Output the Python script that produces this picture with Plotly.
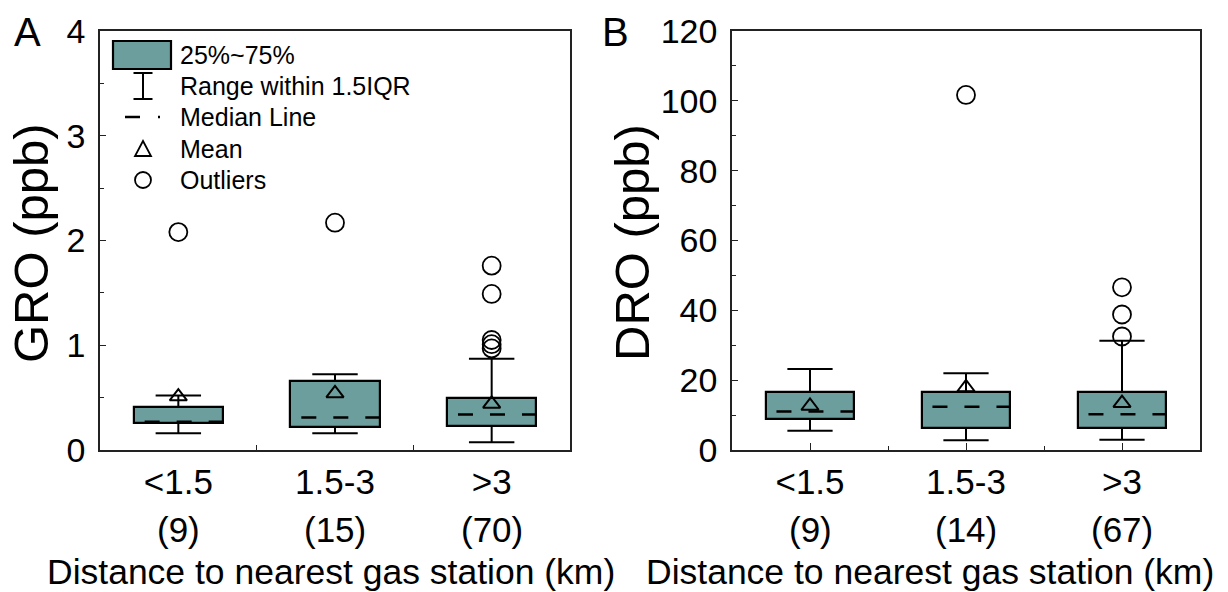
import plotly.graph_objects as go
from plotly.subplots import make_subplots

W, H = 1228, 592

categories = ["<1.5", "1.5-3", ">3"]
counts_gro = ["(9)", "(15)", "(70)"]
counts_dro = ["(9)", "(14)", "(67)"]

# GRO (ppb)
gro_q1 = [0.255, 0.223, 0.23]
gro_median = [0.27, 0.31, 0.34]
gro_q3 = [0.414, 0.66, 0.495]
gro_lower = [0.16, 0.16, 0.074]
gro_upper = [0.52, 0.724, 0.87]
gro_mean = [0.51, 0.54, 0.44]
gro_outliers = [[2.08], [2.17], [1.76, 1.49, 1.05, 1.01, 0.97]]

# DRO (ppb)
dro_q1 = [8.8, 6.4, 6.2]
dro_median = [11.0, 12.4, 10.25]
dro_q3 = [16.75, 16.7, 16.7]
dro_lower = [5.5, 2.8, 2.9]
dro_upper = [23.2, 22.0, 31.3]
dro_mean = [12.6, 17.9, 13.4]
dro_outliers = [[], [101.7], [46.6, 38.8, 32.5]]

FILL = "#6b9e9c"
FONT = "Liberation Sans, Arial, sans-serif"
BOXW = 0.57
CAPW = 0.145
XFS = 35

fig = make_subplots(rows=1, cols=2)


def add_panel(col, q1, med, q3, lo, hi, mean, outl):
    xs = list(range(len(categories)))
    wx, wy = [], []
    for i in xs:
        wx += [i, i, None, i, i, None]
        wy += [q3[i], hi[i], None, q1[i], lo[i], None]
        wx += [i - CAPW, i + CAPW, None, i - CAPW, i + CAPW, None]
        wy += [hi[i], hi[i], None, lo[i], lo[i], None]
    fig.add_trace(go.Scatter(x=wx, y=wy, mode="lines",
                             line=dict(color="black", width=2),
                             showlegend=False, hoverinfo="skip"), row=1, col=col)
    fig.add_trace(go.Bar(x=xs, y=[q3[i] - q1[i] for i in xs], base=q1,
                         width=BOXW, marker=dict(color=FILL, line=dict(color="black", width=2.2)),
                         showlegend=False), row=1, col=col)
    mx, my = [], []
    for i in xs:
        mx += [i - BOXW / 2 + 0.07, i + BOXW / 2, None]
        my += [med[i], med[i], None]
    fig.add_trace(go.Scatter(x=mx, y=my, mode="lines",
                             line=dict(color="black", width=2.5, dash="15px,17px"),
                             showlegend=False, hoverinfo="skip"), row=1, col=col)
    fig.add_trace(go.Scatter(x=xs, y=mean, mode="markers",
                             marker=dict(symbol="triangle-up-open", size=15, color="black",
                                         line=dict(width=2, color="black")),
                             showlegend=False), row=1, col=col)
    ox, oy = [], []
    for i in xs:
        for v in outl[i]:
            ox.append(i)
            oy.append(v)
    fig.add_trace(go.Scatter(x=ox, y=oy, mode="markers",
                             marker=dict(symbol="circle-open", size=18, color="black",
                                         line=dict(width=1.8, color="black")),
                             showlegend=False), row=1, col=col)


add_panel(1, gro_q1, gro_median, gro_q3, gro_lower, gro_upper, gro_mean, gro_outliers)
add_panel(2, dro_q1, dro_median, dro_q3, dro_lower, dro_upper, dro_mean, dro_outliers)


def px(x):
    return x / W


def py(y):
    return 1 - y / H


ydom = [py(450), py(31)]
axis_common = dict(showline=True, mirror=True, linecolor="#222", linewidth=1.5,
                   showgrid=False, zeroline=False, automargin=False)
xfont = dict(family=FONT, size=XFS, color="black")
yfont = dict(family=FONT, size=34, color="black")

fig.update_layout(
    xaxis=dict(domain=[px(100), px(570)], range=[-0.5, 2.5], tickvals=[0, 1, 2],
               ticktext=categories, ticks="inside", ticklen=0, ticklabelstandoff=0, tickfont=xfont,
               minor=dict(tickvals=[0.5, 1.5], ticks="inside", ticklen=5, tickcolor="#222"),
               **axis_common),
    xaxis2=dict(domain=[px(732), px(1200)], range=[-0.5, 2.5], tickvals=[0, 1, 2],
                ticktext=categories, ticks="inside", ticklen=7, tickcolor="#222", ticklabelstandoff=0,
                tickfont=xfont,
                minor=dict(tickvals=[0.5, 1.5], ticks="inside", ticklen=4, tickcolor="#222"),
                **axis_common),
    yaxis=dict(domain=ydom, range=[0, 4], tickvals=[0, 1, 2, 3, 4], ticks="inside",
               ticklen=6, tickcolor="#222", ticklabelstandoff=6, tickfont=yfont,
               minor=dict(dtick=0.5, ticks="inside", ticklen=4, tickcolor="#222"),
               **axis_common),
    yaxis2=dict(domain=ydom, range=[0, 120], tickvals=[0, 20, 40, 60, 80, 100, 120], ticks="inside",
                ticklen=6, tickcolor="#222", ticklabelstandoff=6, tickfont=yfont,
                minor=dict(dtick=10, ticks="inside", ticklen=4, tickcolor="#222"),
                **axis_common),
    width=W, height=H, margin=dict(l=0, r=0, t=0, b=0),
    plot_bgcolor="white", paper_bgcolor="white", showlegend=False,
    bargap=0, barmode="overlay",
    font=dict(family=FONT, color="black"),
)

ann = []
for i in range(3):
    ann.append(dict(x=i, y=py(529), xref="x", yref="paper", text=counts_gro[i], showarrow=False,
                    font=dict(size=XFS), xanchor="center", yanchor="middle"))
    ann.append(dict(x=i, y=py(529), xref="x2", yref="paper", text=counts_dro[i], showarrow=False,
                    font=dict(size=XFS), xanchor="center", yanchor="middle"))
xt = "Distance to nearest gas station (km)"
ann.append(dict(x=px(331), y=py(572), xref="paper", yref="paper", text=xt, showarrow=False,
                font=dict(size=35.5), xanchor="center", yanchor="middle"))
ann.append(dict(x=px(930), y=py(572), xref="paper", yref="paper", text=xt, showarrow=False,
                font=dict(size=35.5), xanchor="center", yanchor="middle"))
ann.append(dict(x=px(31), y=py(243), xref="paper", yref="paper", text="GRO (ppb)", showarrow=False,
                textangle=-90, font=dict(size=49), xanchor="center", yanchor="middle"))
ann.append(dict(x=px(632), y=py(243), xref="paper", yref="paper", text="DRO (ppb)", showarrow=False,
                textangle=-90, font=dict(size=49), xanchor="center", yanchor="middle"))
ann.append(dict(x=px(27), y=py(32), xref="paper", yref="paper", text="A", showarrow=False,
                font=dict(size=40), xanchor="center", yanchor="middle"))
ann.append(dict(x=px(615), y=py(32), xref="paper", yref="paper", text="B", showarrow=False,
                font=dict(size=40), xanchor="center", yanchor="middle"))

leg_labels = ["25%~75%", "Range within 1.5IQR", "Median Line", "Mean", "Outliers"]
leg_y = [55, 86, 117, 149, 180]
for lab, yy in zip(leg_labels, leg_y):
    ann.append(dict(x=px(178), y=py(yy), xref="paper", yref="paper", text=lab, showarrow=False,
                    font=dict(size=25), xanchor="left", yanchor="middle"))
fig.update_layout(annotations=ann)

shapes = []
L = dict(color="black", width=2)
shapes.append(dict(type="rect", xref="paper", yref="paper", x0=px(113), x1=px(171), y0=py(69), y1=py(41),
                   fillcolor=FILL, line=dict(color="black", width=2.2)))
shapes.append(dict(type="line", xref="paper", yref="paper", x0=px(143), x1=px(143), y0=py(73), y1=py(99), line=L))
shapes.append(dict(type="line", xref="paper", yref="paper", x0=px(133.5), x1=px(152.5), y0=py(73), y1=py(73), line=L))
shapes.append(dict(type="line", xref="paper", yref="paper", x0=px(133.5), x1=px(152.5), y0=py(99), y1=py(99), line=L))
shapes.append(dict(type="line", xref="paper", yref="paper", x0=px(125), x1=px(140), y0=py(117), y1=py(117),
                   line=dict(color="black", width=2.5)))
shapes.append(dict(type="line", xref="paper", yref="paper", x0=px(158), x1=px(160), y0=py(117), y1=py(117),
                   line=dict(color="black", width=2.5)))
tri = f"M {px(135)} {py(156)} L {px(151)} {py(156)} L {px(143)} {py(141)} Z"
shapes.append(dict(type="path", xref="paper", yref="paper", path=tri, line=dict(color="black", width=1.8)))
shapes.append(dict(type="circle", xref="paper", yref="paper", x0=px(135), x1=px(151), y0=py(188), y1=py(172),
                   line=dict(color="black", width=1.8)))
fig.update_layout(shapes=shapes)

fig.write_html("out.html")
